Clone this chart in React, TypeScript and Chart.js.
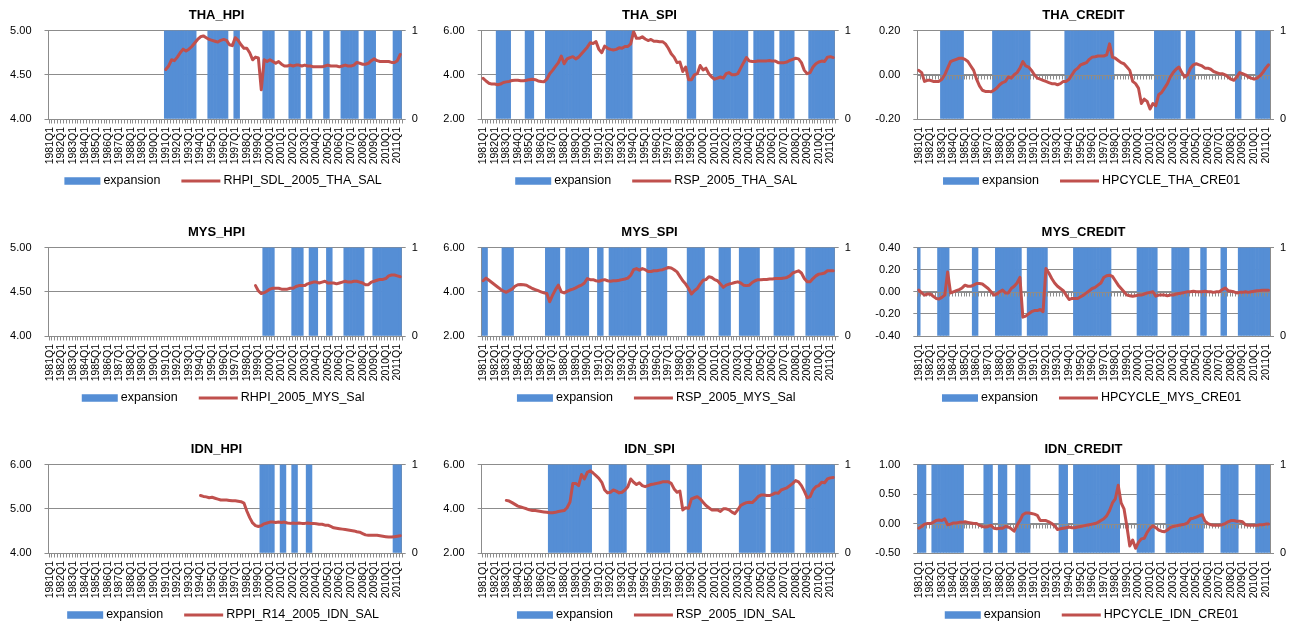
import React, { useEffect, useRef } from 'react';
import { Chart, registerables } from 'chart.js';

Chart.register(...registerables);

const FONT = '"Liberation Sans", Arial, sans-serif';
const BLUE = '#558ED5';
const RED = '#C0504D';
const GRID = '#8C8C8C';
const TEXT = '#000000';

// Category labels: 1981Q1 .. 2011Q2
const FIRST_YEAR = 1981;
const LAST_YEAR = 2011;
const LAST_QUARTER_OF_LAST_YEAR = 2;
const QUARTERS: string[] = [];
for (let y = FIRST_YEAR; y <= LAST_YEAR; y++) {
  const nq = y === LAST_YEAR ? LAST_QUARTER_OF_LAST_YEAR : 4;
  for (let q = 1; q <= nq; q++) QUARTERS.push(`${y}Q${q}`);
}

// Expansion indicator (1 = expansion), one character per quarter, grouped by year
const THA_HPI_EXP = "0000 0000 0000 0000 0000 0000 0000 0000 0000 0000 1111 1111 1110 0001 1111 1100 1100 0000 0011 1100 0001 1110 0110 0001 1000 0111 1110 0111 1000 0001 11";
const THA_SPI_EXP = "0000 0111 1100 0001 1100 0011 1111 1111 1111 1100 0001 1111 1111 0000 0000 0000 0000 0001 1100 0000 1111 1111 1111 0011 1111 1001 1111 0000 0111 1111 11";
const THA_CREDIT_EXP = "0000 0000 1111 1111 0000 0000 0011 1111 1111 1110 0000 0000 0001 1111 1111 1111 1111 0000 0000 0000 0011 1111 1110 0111 0000 0000 0000 0011 0000 0111 11";
const MYS_HPI_EXP = "0000 0000 0000 0000 0000 0000 0000 0000 0000 0000 0000 0000 0000 0000 0000 0000 0000 0000 0011 1100 0000 1111 0011 1000 1100 0011 1111 1000 1111 1111 11";
const MYS_SPI_EXP = "1100 0001 1110 0000 0000 0011 1110 0111 1111 1000 1100 1111 1111 1110 0111 1111 0000 0001 1111 1000 0011 1100 0111 1111 0000 0111 1111 0000 1111 1111 11";
const MYS_CREDIT_EXP = "1000 0001 1110 0000 0001 1000 0001 1111 1111 0011 1111 1000 0000 0011 1111 1111 1110 0000 0000 1111 1110 0000 1111 1100 0011 0000 0110 0001 1111 1111 11";
const IDN_HPI_EXP = "0000 0000 0000 0000 0000 0000 0000 0000 0000 0000 0000 0000 0000 0000 0000 0000 0000 0000 0111 1100 1100 1100 0110 0000 0000 0000 0000 0000 0000 0001 11";
const IDN_SPI_EXP = "0000 0000 0000 0000 0000 0001 1111 1111 1111 1100 0000 1111 1100 0000 0111 1111 1000 0001 1111 0000 0000 0000 0111 1111 1100 1111 1111 0000 1111 1111 11";
const IDN_CREDIT_EXP = "1110 0111 1111 1111 0000 0001 1100 1110 0011 1110 0000 0000 0111 0011 1111 1111 1111 1100 0000 1111 1100 0011 1111 1111 1110 0000 0111 1110 0000 0111 11";

// Line series: first quarter index with data, then values
const THA_HPI_START = 40;
const THA_HPI = [
  4.56, 4.60, 4.67, 4.66, 4.70, 4.75, 4.79, 4.77, 4.79, 4.82,
  4.86, 4.90, 4.93, 4.94, 4.92, 4.90, 4.89, 4.88, 4.87, 4.89,
  4.90, 4.89, 4.84, 4.83, 4.92, 4.89, 4.84, 4.80, 4.80, 4.75,
  4.67, 4.70, 4.69, 4.33, 4.67, 4.65, 4.67, 4.65, 4.63, 4.65,
  4.62, 4.60, 4.60, 4.61, 4.60, 4.61, 4.61, 4.60, 4.61, 4.60,
  4.60, 4.59, 4.59, 4.59, 4.59, 4.60, 4.61, 4.60, 4.60, 4.60,
  4.59, 4.60, 4.61, 4.60, 4.60, 4.61, 4.64, 4.63, 4.62, 4.62,
  4.63, 4.66, 4.68, 4.66, 4.65, 4.65, 4.65, 4.65, 4.64, 4.64,
  4.66, 4.73,
];

const THA_SPI_START = 0;
const THA_SPI = [
  3.84, 3.72, 3.62, 3.58, 3.58, 3.55, 3.58, 3.65, 3.68, 3.70,
  3.74, 3.75, 3.75, 3.73, 3.73, 3.75, 3.78, 3.80, 3.78, 3.72,
  3.70, 3.68, 3.80, 4.05, 4.20, 4.38, 4.55, 4.85, 4.50, 4.72,
  4.78, 4.82, 4.72, 4.80, 4.95, 5.10, 5.25, 5.45, 5.42, 5.50,
  5.15, 5.00, 5.30, 5.20, 5.15, 5.12, 5.15, 5.22, 5.20, 5.28,
  5.28, 5.40, 5.95, 5.65, 5.65, 5.72, 5.62, 5.55, 5.60, 5.52,
  5.52, 5.50, 5.50, 5.40, 5.20, 4.95, 4.80, 4.55, 4.58, 4.15,
  4.35, 3.78, 3.78, 4.00, 4.05, 4.42, 4.22, 4.30, 4.05, 3.90,
  3.80, 3.85, 3.90, 3.85, 4.05, 4.10, 4.00, 4.00, 4.05, 4.30,
  4.55, 4.78, 4.62, 4.60, 4.60, 4.62, 4.62, 4.63, 4.63, 4.65,
  4.62, 4.62, 4.55, 4.55, 4.55, 4.58, 4.65, 4.70, 4.75, 4.72,
  4.55, 4.20, 4.05, 4.10, 4.35, 4.50, 4.58, 4.62, 4.60, 4.80,
  4.82, 4.78,
];

const THA_CREDIT_START = 0;
const THA_CREDIT = [
  0.02, 0.01, -0.03, -0.025, -0.025, -0.03, -0.03, -0.03, -0.02, 0.0,
  0.03, 0.06, 0.065, 0.07, 0.075, 0.075, 0.07, 0.06, 0.04, 0.02,
  -0.02, -0.05, -0.07, -0.075, -0.075, -0.077, -0.07, -0.06, -0.045, -0.035,
  -0.03, -0.01, -0.015, 0.0, 0.01, 0.03, 0.06, 0.04, 0.035, 0.02,
  0.0, -0.015, -0.02, -0.025, -0.03, -0.035, -0.04, -0.04, -0.045, -0.04,
  -0.03, -0.03, -0.02, 0.0, 0.02, 0.03, 0.045, 0.05, 0.055, 0.07,
  0.08, 0.082, 0.085, 0.085, 0.085, 0.09, 0.14, 0.08, 0.075, 0.065,
  0.055, 0.05, 0.035, 0.02, -0.03, -0.04, -0.06, -0.13, -0.11, -0.12,
  -0.155, -0.13, -0.14, -0.09, -0.08, -0.06, -0.04, -0.01, 0.01, 0.025,
  0.035, 0.01, -0.01, 0.0, 0.03, 0.045, 0.05, 0.045, 0.04, 0.03,
  0.03, 0.025, 0.015, 0.01, 0.005, 0.005, 0.0, -0.01, -0.02, -0.025,
  -0.01, 0.01, 0.005, 0.0, -0.01, -0.015, -0.02, -0.015, -0.005, 0.01,
  0.03, 0.045,
];

const MYS_HPI_START = 71;
const MYS_HPI = [
  4.57, 4.51, 4.48, 4.49, 4.51, 4.53, 4.54, 4.54, 4.54, 4.53,
  4.53, 4.53, 4.54, 4.54, 4.56, 4.57, 4.57, 4.57, 4.59, 4.60,
  4.61, 4.61, 4.60, 4.61, 4.62, 4.60, 4.60, 4.60, 4.59, 4.60,
  4.61, 4.62, 4.61, 4.61, 4.62, 4.62, 4.61, 4.60, 4.58, 4.58,
  4.61, 4.62, 4.63, 4.64, 4.64, 4.65, 4.68, 4.69, 4.69, 4.68,
  4.67,
];

const MYS_SPI_START = 0;
const MYS_SPI = [
  4.50, 4.62, 4.52, 4.42, 4.32, 4.22, 4.12, 4.03, 3.98, 4.05,
  4.12, 4.25, 4.32, 4.33, 4.32, 4.30, 4.22, 4.15, 4.10, 4.05,
  4.00, 3.95, 3.92, 3.55, 3.85, 4.10, 4.30, 4.00, 3.95, 4.02,
  4.08, 4.12, 4.18, 4.25, 4.30, 4.40, 4.60, 4.55, 4.55, 4.50,
  4.48, 4.52, 4.55, 4.50, 4.48, 4.50, 4.50, 4.52, 4.55, 4.58,
  4.62, 4.75, 5.00, 5.05, 4.98, 5.05, 5.00, 4.92, 4.92, 4.95,
  4.95, 4.98, 5.00, 5.05, 5.10, 5.08, 5.00, 4.90, 4.70, 4.50,
  4.35, 4.15, 3.90, 4.05, 4.15, 4.35, 4.52, 4.55, 4.68, 4.65,
  4.55, 4.50, 4.35, 4.20, 4.30, 4.35, 4.38, 4.42, 4.45, 4.40,
  4.30, 4.28, 4.30, 4.42, 4.50, 4.55, 4.55, 4.56, 4.56, 4.58,
  4.58, 4.60, 4.60, 4.60, 4.62, 4.65, 4.72, 4.85, 4.90, 4.95,
  4.85, 4.60, 4.45, 4.45, 4.60, 4.72, 4.80, 4.82, 4.85, 4.95,
  4.95, 4.95,
];

const MYS_CREDIT_START = 0;
const MYS_CREDIT = [
  0.015, -0.01, -0.03, -0.02, -0.02, -0.04, -0.06, -0.065, -0.05, -0.03,
  0.18, -0.01, 0.0, 0.01, 0.02, 0.035, 0.06, 0.05, 0.05, 0.06,
  0.075, 0.075, 0.07, 0.05, 0.03, 0.0, -0.03, -0.02, 0.0, 0.015,
  -0.01, -0.01, 0.03, 0.05, 0.08, 0.13, -0.23, -0.22, -0.20, -0.18,
  -0.17, -0.17, -0.16, -0.18, 0.21, 0.17, 0.12, 0.08, 0.05, 0.03,
  0.01, -0.03, -0.07, -0.06, -0.06, -0.06, -0.045, -0.03, -0.01, 0.01,
  0.03, 0.04, 0.06, 0.08, 0.13, 0.145, 0.15, 0.14, 0.10, 0.06,
  0.03, 0.0, -0.03, -0.035, -0.04, -0.035, -0.03, -0.03, -0.02, -0.01,
  -0.005, 0.0, -0.04, -0.03, -0.03, -0.03, -0.035, -0.03, -0.03, -0.02,
  -0.015, -0.01, -0.005, 0.0, 0.0, 0.005, 0.0, 0.0, 0.0, 0.005,
  0.0, 0.0, -0.005, 0.0, 0.0, 0.02, 0.035, 0.01, 0.005, 0.0,
  -0.01, -0.005, -0.005, 0.0, -0.005, 0.0, 0.005, 0.01, 0.012, 0.015,
  0.015, 0.015,
];

const IDN_HPI_START = 52;
const IDN_HPI = [
  5.30, 5.28, 5.27, 5.25, 5.26, 5.24, 5.22, 5.20, 5.20, 5.20,
  5.19, 5.18, 5.18, 5.17, 5.16, 5.13, 4.95, 4.80, 4.68, 4.62,
  4.60, 4.62, 4.66, 4.68, 4.70, 4.70, 4.69, 4.70, 4.69, 4.70,
  4.68, 4.67, 4.68, 4.67, 4.68, 4.67, 4.67, 4.68, 4.67, 4.67,
  4.66, 4.65, 4.65, 4.63, 4.63, 4.60, 4.57, 4.56, 4.55, 4.54,
  4.53, 4.52, 4.51, 4.50, 4.48, 4.47, 4.44, 4.41, 4.40, 4.40,
  4.40, 4.40, 4.39, 4.38, 4.37, 4.36, 4.36, 4.37, 4.38, 4.39,
];

const IDN_SPI_START = 8;
const IDN_SPI = [
  4.38, 4.35, 4.28, 4.20, 4.12, 4.08, 4.04, 4.00, 3.95, 3.92,
  3.92, 3.90, 3.88, 3.86, 3.84, 3.82, 3.82, 3.84, 3.88, 3.90,
  3.92, 4.05, 4.30, 5.15, 5.15, 5.05, 5.55, 5.35, 5.65, 5.72,
  5.62, 5.50, 5.38, 5.20, 4.85, 4.72, 4.75, 4.85, 4.80, 4.72,
  4.75, 4.85, 5.00, 5.35, 5.20, 5.10, 5.18, 5.05, 5.00, 5.05,
  5.10, 5.12, 5.15, 5.18, 5.22, 5.22, 5.22, 5.15, 4.90, 4.75,
  4.80, 3.95, 4.05, 4.02, 4.45, 4.50, 4.55, 4.45, 4.30, 4.15,
  4.05, 3.95, 3.95, 3.95, 3.88, 4.00, 4.00, 3.95, 3.85, 3.78,
  3.95, 4.15, 4.22, 4.28, 4.30, 4.28, 4.40, 4.55, 4.62, 4.62,
  4.60, 4.60, 4.65, 4.72, 4.70, 4.85, 4.90, 4.95, 5.05, 5.15,
  5.28, 5.22, 5.05, 4.80, 4.50, 4.55, 4.85, 5.00, 5.05, 5.20,
  5.18, 5.35, 5.40, 5.42,
];

const IDN_CREDIT_START = 0;
const IDN_CREDIT = [
  -0.08, -0.05, -0.01, 0.0, 0.0, 0.02, 0.05, 0.06, 0.05, 0.08,
  -0.02, -0.01, 0.01, 0.01, 0.02, 0.02, 0.03, 0.02, 0.01, 0.0,
  0.0, -0.03, -0.05, -0.06, -0.05, -0.03, -0.08, -0.09, -0.08, -0.08,
  -0.05, -0.06, -0.09, -0.13, -0.03, 0.05, 0.15, 0.18, 0.18, 0.17,
  0.16, 0.14, 0.05, 0.05, 0.05, 0.03, 0.0, -0.04, -0.10, -0.09,
  -0.08, -0.07, -0.06, -0.07, -0.07, -0.06, -0.05, -0.04, -0.03, -0.02,
  -0.01, 0.0, 0.02, 0.05, 0.08, 0.13, 0.22, 0.35, 0.42, 0.65,
  0.35, 0.25, -0.05, -0.38, -0.28, -0.42, -0.32, -0.26, -0.25, -0.15,
  -0.08, -0.04, -0.07, -0.11, -0.13, -0.14, -0.11, -0.07, -0.05, -0.04,
  -0.03, -0.02, -0.01, 0.01, 0.08, 0.09, 0.11, 0.13, 0.15, 0.04,
  0.0, -0.02, -0.03, -0.03, -0.03, -0.02, 0.0, 0.03, 0.05, 0.05,
  0.04, 0.04, 0.03, -0.02, -0.03, -0.03, -0.03, -0.03, -0.02, -0.02,
  -0.01, -0.01,
];

type PanelCfg = {
  title: string;
  lineName: string;
  exp: string;
  start: number;
  values: number[];
  min: number;
  max: number;
  step: number;
};

const PANELS: PanelCfg[] = [
  { title: 'THA_HPI', lineName: 'RHPI_SDL_2005_THA_SAL', exp: THA_HPI_EXP, start: THA_HPI_START, values: THA_HPI, min: 4, max: 5, step: 0.5 },
  { title: 'THA_SPI', lineName: 'RSP_2005_THA_SAL', exp: THA_SPI_EXP, start: THA_SPI_START, values: THA_SPI, min: 2, max: 6, step: 2 },
  { title: 'THA_CREDIT', lineName: 'HPCYCLE_THA_CRE01', exp: THA_CREDIT_EXP, start: THA_CREDIT_START, values: THA_CREDIT, min: -0.2, max: 0.2, step: 0.2 },
  { title: 'MYS_HPI', lineName: 'RHPI_2005_MYS_Sal', exp: MYS_HPI_EXP, start: MYS_HPI_START, values: MYS_HPI, min: 4, max: 5, step: 0.5 },
  { title: 'MYS_SPI', lineName: 'RSP_2005_MYS_Sal', exp: MYS_SPI_EXP, start: MYS_SPI_START, values: MYS_SPI, min: 2, max: 6, step: 2 },
  { title: 'MYS_CREDIT', lineName: 'HPCYCLE_MYS_CRE01', exp: MYS_CREDIT_EXP, start: MYS_CREDIT_START, values: MYS_CREDIT, min: -0.4, max: 0.4, step: 0.2 },
  { title: 'IDN_HPI', lineName: 'RPPI_R14_2005_IDN_SAL', exp: IDN_HPI_EXP, start: IDN_HPI_START, values: IDN_HPI, min: 4, max: 6, step: 1 },
  { title: 'IDN_SPI', lineName: 'RSP_2005_IDN_SAL', exp: IDN_SPI_EXP, start: IDN_SPI_START, values: IDN_SPI, min: 2, max: 6, step: 2 },
  { title: 'IDN_CREDIT', lineName: 'HPCYCLE_IDN_CRE01', exp: IDN_CREDIT_EXP, start: IDN_CREDIT_START, values: IDN_CREDIT, min: -0.5, max: 1, step: 0.5 },
];

// Layout (pixels)
const COL_LEFT = [0, 433, 866];
const COL_WIDTH = [433, 433, 435];
const COL_AXIS_LEFT = [48.5, 48.7, 51.3];
const COL_AXIS_RIGHT = [31.3, 31.3, 31];
const ROW_TOP = [0, 217, 434];
const PANEL_H = 194;
const X_AXIS_H = 52;
const BOTTOM_PAD = 23;

function toSeries(start: number, values: number[]): (number | null)[] {
  const out: (number | null)[] = QUARTERS.map(() => null);
  values.forEach((v, i) => {
    if (start + i < out.length) out[start + i] = v;
  });
  return out;
}

function parseExp(s: string): (number | null)[] {
  return s.replace(/\s+/g, '').split('').map((c) => (c === '1' ? 1 : null));
}

const excelPlugin = {
  id: 'excelExtras',
  afterDatasetDraw(chart: any, args: any) {
    if (args.index !== 1) return;
    const { ctx, chartArea } = chart;
    const ys = chart.scales.y;
    const cv = ys.min <= 0 && ys.max >= 0 ? 0 : ys.min;
    const py = Math.round(ys.getPixelForValue(cv)) + 0.5;
    const n = chart.data.labels.length;
    const w = (chartArea.right - chartArea.left) / n;
    ctx.save();
    ctx.strokeStyle = GRID;
    ctx.lineWidth = 1;
    ctx.beginPath();
    ctx.moveTo(chartArea.left, py);
    ctx.lineTo(chartArea.right, py);
    for (let i = 0; i <= n; i++) {
      const px = Math.round(chartArea.left + i * w) + 0.5;
      ctx.moveTo(px, py);
      ctx.lineTo(px, py + 4);
    }
    ctx.stroke();
    ctx.restore();
  },
  afterDraw(chart: any, _args: any, opts: any) {
    const { ctx, chartArea } = chart;
    const cy = chartArea.bottom + 62;
    ctx.save();
    ctx.font = `12.5px ${FONT}`;
    ctx.textBaseline = 'middle';
    ctx.textAlign = 'left';
    const t1 = 'expansion';
    const t2 = opts.lineName as string;
    const boxW = 36, boxH = 7.5, gapText = 3, gapItem = 21, lineW = 39;
    const w1 = ctx.measureText(t1).width;
    const w2 = ctx.measureText(t2).width;
    const total = boxW + gapText + w1 + gapItem + lineW + gapText + w2;
    let x0 = (chartArea.left + chartArea.right) / 2 - 2 - total / 2;
    ctx.fillStyle = BLUE;
    ctx.fillRect(x0, cy - boxH / 2, boxW, boxH);
    x0 += boxW + gapText;
    ctx.fillStyle = TEXT;
    ctx.fillText(t1, x0, cy);
    x0 += w1 + gapItem;
    ctx.strokeStyle = RED;
    ctx.lineWidth = 3;
    ctx.beginPath();
    ctx.moveTo(x0, cy);
    ctx.lineTo(x0 + lineW, cy);
    ctx.stroke();
    x0 += lineW + gapText;
    ctx.fillStyle = TEXT;
    ctx.fillText(t2, x0, cy);
    ctx.restore();
  },
};

function Panel({ cfg, index }: { cfg: PanelCfg; index: number }) {
  const ref = useRef<HTMLCanvasElement | null>(null);
  const col = index % 3;
  const row = Math.floor(index / 3);
  const width = COL_WIDTH[col];

  useEffect(() => {
    if (!ref.current) return;
    const leftW = COL_AXIS_LEFT[col];
    const rightW = COL_AXIS_RIGHT[col];
    const chart = new Chart(ref.current, {
      type: 'bar',
      data: {
        labels: QUARTERS,
        datasets: [
          {
            type: 'line',
            label: cfg.lineName,
            data: toSeries(cfg.start, cfg.values),
            borderColor: RED,
            backgroundColor: RED,
            borderWidth: 3,
            pointRadius: 0,
            pointHoverRadius: 0,
            tension: 0,
            spanGaps: false,
            borderJoinStyle: 'round',
            borderCapStyle: 'round',
            yAxisID: 'y',
          } as any,
          {
            type: 'bar',
            label: 'expansion',
            data: parseExp(cfg.exp),
            backgroundColor: BLUE,
            borderWidth: 0,
            barPercentage: 1,
            categoryPercentage: 1,
            yAxisID: 'y1',
          } as any,
        ],
      },
      options: {
        responsive: false,
        animation: false,
        devicePixelRatio: 1,
        layout: { padding: { left: 0, right: 0, top: 0, bottom: BOTTOM_PAD } },
        plugins: {
          legend: { display: false },
          tooltip: { enabled: false },
          title: {
            display: true,
            text: cfg.title,
            color: TEXT,
            font: { family: FONT, size: 13, weight: 'bold' },
            padding: { top: 8, bottom: 7 },
          },
          excelExtras: { lineName: cfg.lineName },
        } as any,
        scales: {
          x: {
            type: 'category',
            offset: true,
            grid: {
              display: true,
              drawOnChartArea: false,
              drawTicks: true,
              tickLength: 5,
              color: 'rgba(0,0,0,0)',
              offset: true,
            },
            border: { display: false },
            ticks: {
              autoSkip: false,
              maxRotation: 90,
              minRotation: 90,
              padding: 3,
              color: TEXT,
              font: { family: FONT, size: 10.5 },
              callback: (_v: any, i: number) => (QUARTERS[i].endsWith('Q1') ? QUARTERS[i] : ''),
            },
            afterFit: (s: any) => {
              s.height = X_AXIS_H;
            },
          },
          y: {
            position: 'left',
            min: cfg.min,
            max: cfg.max,
            grid: { color: GRID, drawTicks: true, tickLength: 4, lineWidth: 1 },
            border: { display: true, color: GRID },
            ticks: {
              stepSize: cfg.step,
              padding: 13,
              color: TEXT,
              font: { family: FONT, size: 11 },
              callback: (v: any) => {
                const n = Math.abs(Number(v)) < 1e-9 ? 0 : Number(v);
                return n.toFixed(2);
              },
            },
            afterFit: (s: any) => {
              s.width = leftW;
            },
          },
          y1: {
            position: 'right',
            min: 0,
            max: 1,
            grid: { drawOnChartArea: false, drawTicks: true, tickLength: 4, color: GRID },
            border: { display: true, color: GRID },
            ticks: {
              stepSize: 1,
              padding: 6,
              color: TEXT,
              font: { family: FONT, size: 11 },
              callback: (v: any) => String(Math.round(Number(v))),
            },
            afterFit: (s: any) => {
              s.width = rightW;
            },
          },
        },
      } as any,
      plugins: [excelPlugin as any],
    });
    return () => chart.destroy();
  }, [cfg, col]);

  return (
    <canvas
      ref={ref}
      width={width}
      height={PANEL_H}
      style={{ position: 'absolute', left: COL_LEFT[col], top: ROW_TOP[row], width, height: PANEL_H }}
    />
  );
}

export default function App() {
  return (
    <div
      style={{
        position: 'absolute',
        left: 0,
        top: 0,
        width: 1301,
        height: 628,
        overflow: 'hidden',
        background: '#ffffff',
      }}
    >
      {PANELS.map((p, i) => (
        <Panel key={p.title} cfg={p} index={i} />
      ))}
    </div>
  );
}
